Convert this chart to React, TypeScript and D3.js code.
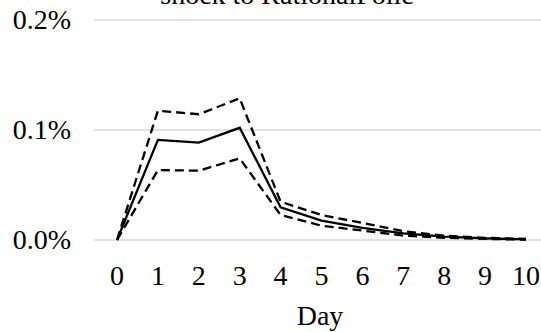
import React from 'react';
import * as d3 from 'd3';

const days = [0, 1, 2, 3, 4, 5, 6, 7, 8, 9, 10];
const mean = [0, 0.091, 0.0885, 0.102, 0.0297, 0.0176, 0.011, 0.006, 0.003, 0.0015, 0.0005];
const upper = [0, 0.1176, 0.1143, 0.1288, 0.0348, 0.0227, 0.0155, 0.008, 0.004, 0.002, 0.001];
const lower = [0, 0.0636, 0.063, 0.0742, 0.0227, 0.013, 0.0086, 0.004, 0.002, 0.001, 0.0003];
const yTicks = [0, 0.1, 0.2];

const width = 541;
const height = 332;
const font = "'Liberation Serif', 'Times New Roman', serif";

export default function App() {
  const x = d3.scaleLinear().domain([0, 10]).range([117, 526]);
  const y = d3.scaleLinear().domain([0, 0.2]).range([240, 20]);

  const line = d3.line<number>()
    .x((d, i) => x(days[i]))
    .y(d => y(d));

  return (
    <svg width={width} height={height}
      style={{ position: 'fixed', top: 0, left: 0, background: '#fff' }}
      fontFamily={font}>
      {/* title, clipped at the top in the original */}
      <text x={287} y={4} textAnchor="middle" fontSize={28} fill="#000">shock to RationalPolic</text>

      {/* gridlines + y labels */}
      {yTicks.map(t => (
        <g key={t}>
          <line x1={94} x2={541} y1={y(t)} y2={y(t)} stroke="#d9d9d9" strokeWidth={1.3} />
          <text x={71} y={y(t) + 9} textAnchor="end" fontSize={28} fill="#000">
            {t.toFixed(1) + '%'}
          </text>
        </g>
      ))}

      {/* x labels */}
      {days.map(d => (
        <text key={d} x={x(d)} y={285} textAnchor="middle" fontSize={28} fill="#000">{d}</text>
      ))}
      <text x={320} y={325} textAnchor="middle" fontSize={28} fill="#000">Day</text>

      <path d={line(upper) || ''} fill="none" stroke="#000" strokeWidth={2.3} strokeDasharray="9,5" />
      <path d={line(lower) || ''} fill="none" stroke="#000" strokeWidth={2.3} strokeDasharray="9,5" />
      <path d={line(mean) || ''} fill="none" stroke="#000" strokeWidth={2.3} />
    </svg>
  );
}
